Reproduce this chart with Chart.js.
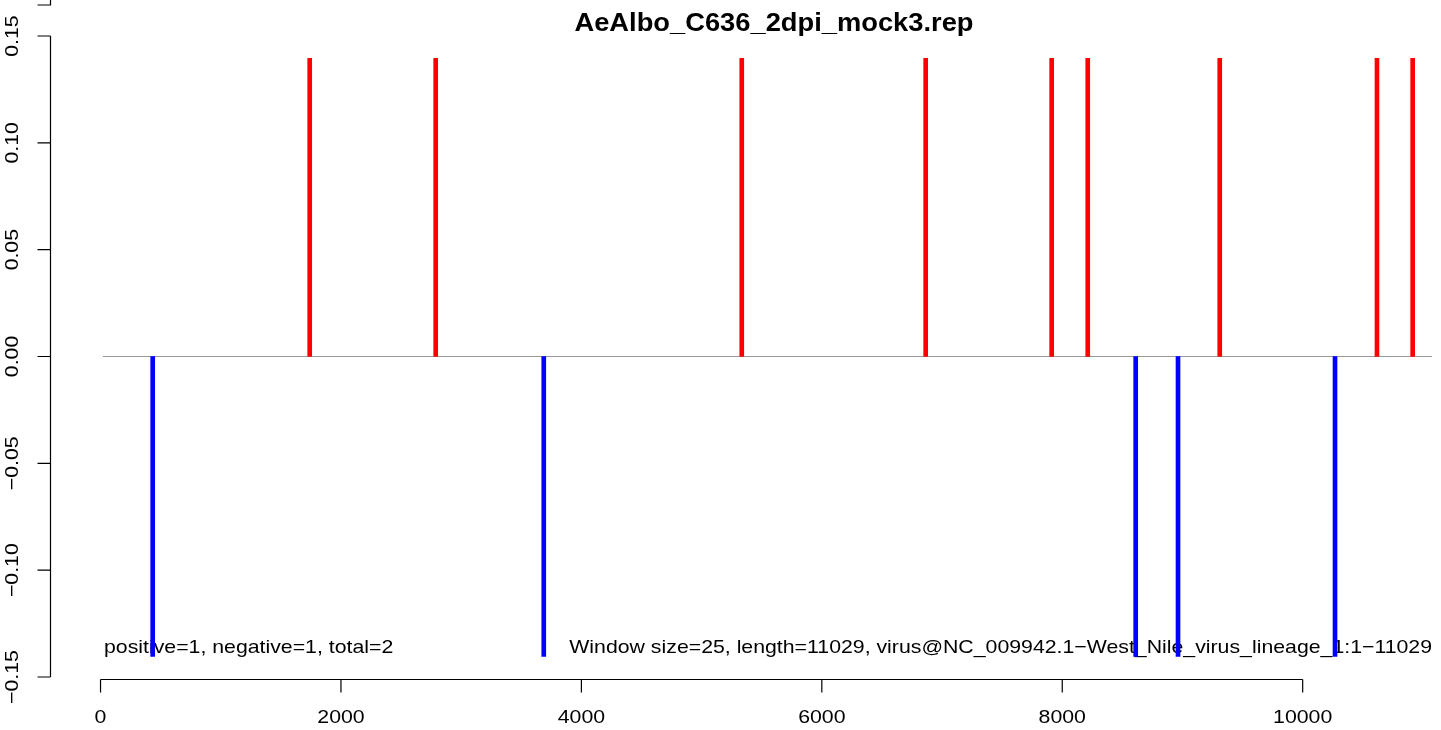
<!DOCTYPE html>
<html>
<head>
<meta charset="utf-8">
<script src="https://cdn.jsdelivr.net/npm/chart.js@4.4.1/dist/chart.umd.min.js"></script>
<style>
  html, body { margin: 0; padding: 0; background: #fff; }
  #wrap { width: 1441px; height: 730px; }
</style>
</head>
<body>
<div id="wrap"><canvas id="chart"></canvas></div>
<script>
// positions
const posSites = [1740, 2788, 5334, 6864, 7912, 8212, 9310, 10618, 10915];
const posValues = [0.1395, 0.1395, 0.1395, 0.1395, 0.1395, 0.1395, 0.1395, 0.1395, 0.1395];
const negSites = [434, 3687, 8611, 8963, 10269];
const negValues = [-0.1404, -0.1404, -0.1404, -0.1404, -0.1404];
const baselineX = [20, 11075];
const xTicks = [0, 2000, 4000, 6000, 8000, 10000];
const yTicks = [-0.15, -0.10, -0.05, 0.00, 0.05, 0.10, 0.15];
const yTickLabels = ['\u22120.15', '\u22120.10', '\u22120.05', '0.00', '0.05', '0.10', '0.15'];

const titleText = 'AeAlbo_C636_2dpi_mock3.rep';
const leftNote = 'positive=1, negative=1, total=2';
const rightNote = 'Window size=25, length=11029, virus@NC_009942.1\u2212West_Nile_virus_lineage_1:1\u221211029';

const FONT = "'Liberation Sans', Arial, Helvetica, sans-serif";
const TXT = '19px ' + FONT;
const STRETCH = 1.12;   // R's png text runs a bit wider

function putText(ctx, text, x, y, align, font, sx, rot) {
    ctx.save();
    ctx.translate(x, y);
    if (rot) ctx.rotate(rot);
    ctx.scale(sx, 1);
    ctx.font = font;
    ctx.textAlign = align;
    ctx.textBaseline = 'middle';
    ctx.fillText(text, 0, 0);
    ctx.restore();
}

// R-style detached axes + text
const rAxes = {
    id: 'rAxes',
    beforeDatasetsDraw(chart) {
        const ctx = chart.ctx;
        ctx.fillStyle = '#000';
        putText(ctx, leftNote, 104, 648, 'left', TXT, STRETCH);
        putText(ctx, rightNote, 1432, 648, 'right', TXT, STRETCH);
    },
    afterDraw(chart) {
        const ctx = chart.ctx;
        const xs = chart.scales.x, ys = chart.scales.y;
        const area = chart.chartArea;
        ctx.save();
        ctx.strokeStyle = '#000';
        ctx.fillStyle = '#000';
        ctx.lineWidth = 1.2;

        // x axis
        const axY = area.bottom + 0.5;
        ctx.beginPath();
        ctx.moveTo(xs.getPixelForValue(xTicks[0]), axY);
        ctx.lineTo(xs.getPixelForValue(xTicks[xTicks.length - 1]), axY);
        xTicks.forEach(v => {
            const px = xs.getPixelForValue(v);
            ctx.moveTo(px, axY);
            ctx.lineTo(px, axY + 13);
        });
        ctx.stroke();
        xTicks.forEach(v => putText(ctx, String(v), xs.getPixelForValue(v), 718, 'center', TXT, STRETCH));

        // y axis
        const axX = area.left + 2.5;
        ctx.beginPath();
        ctx.moveTo(axX, ys.getPixelForValue(yTicks[0]));
        ctx.lineTo(axX, ys.getPixelForValue(yTicks[yTicks.length - 1]));
        yTicks.forEach(v => {
            const py = ys.getPixelForValue(v);
            ctx.moveTo(axX, py);
            ctx.lineTo(axX - 13, py);
        });
        // stray tick at the very top
        ctx.moveTo(axX, 0);
        ctx.lineTo(axX, 5);
        ctx.lineTo(axX - 13, 5);
        ctx.stroke();
        yTicks.forEach((v, i) => {
            putText(ctx, yTickLabels[i], 13, ys.getPixelForValue(v), 'center', TXT, STRETCH, -Math.PI / 2);
        });

        // title
        putText(ctx, titleText, 774, 24, 'center', 'bold 26px ' + FONT, 1.05);
        ctx.restore();
    }
};

new Chart(document.getElementById('chart'), {
    type: 'bar',
    data: {
        datasets: [
            {
                type: 'line',
                data: baselineX.map(x => ({ x: x, y: 0 })),
                borderColor: '#999999',
                borderWidth: 1.2,
                pointRadius: 0,
                order: 3
            },
            {
                data: posSites.map((x, i) => ({ x: x, y: [0, posValues[i]] })),
                backgroundColor: '#ff0000',
                barThickness: 4,
                grouped: false,
                order: 1
            },
            {
                data: negSites.map((x, i) => ({ x: x, y: [negValues[i], 0] })),
                backgroundColor: '#0000ff',
                barThickness: 4,
                grouped: false,
                order: 2
            }
        ]
    },
    options: {
        responsive: true,
        maintainAspectRatio: false,
        animation: false,
        layout: { padding: { left: 48, right: 5, top: 5, bottom: 51 } },
        scales: {
            x: { type: 'linear', min: -437, max: 11109, offset: false, display: false },
            y: { type: 'linear', min: -0.15094, max: 0.16451, display: false }
        },
        plugins: {
            legend: { display: false },
            tooltip: { enabled: false }
        }
    },
    plugins: [rAxes]
});
</script>
</body>
</html>
